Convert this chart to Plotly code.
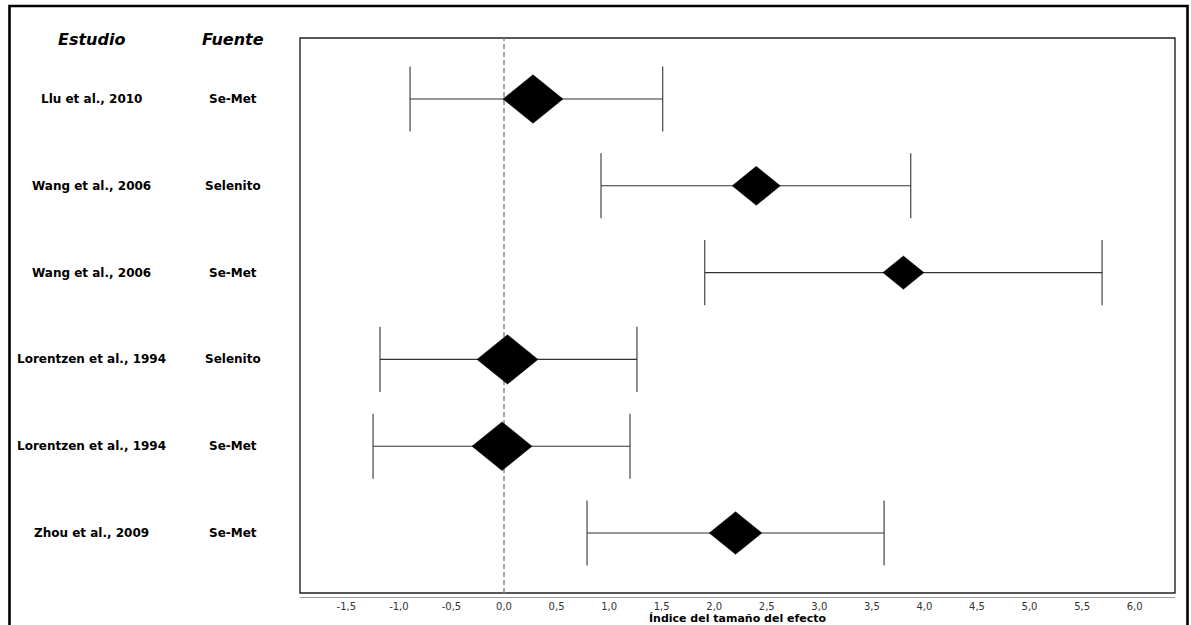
import plotly.graph_objects as go

# ---------------- data ----------------
estudios = ["Llu et al., 2010", "Wang et al., 2006", "Wang et al., 2006",
            "Lorentzen et al., 1994", "Lorentzen et al., 1994", "Zhou et al., 2009"]
fuentes = ["Se-Met", "Selenito", "Se-Met", "Selenito", "Se-Met", "Se-Met"]
efecto = [0.276, 2.40, 3.80, 0.033, -0.019, 2.203]
ic_inf = [-0.894, 0.923, 1.91, -1.18, -1.246, 0.79]
ic_sup = [1.51, 3.87, 5.69, 1.265, 1.199, 3.616]
pesos = [18.6, 14.9, 12.7, 18.9, 18.6, 16.3]

tick_vals = [-1.5, -1.0, -0.5, 0.0, 0.5, 1.0, 1.5, 2.0, 2.5, 3.0, 3.5, 4.0, 4.5, 5.0, 5.5, 6.0]
tick_text = ["-1,5", "-1,0", "-0,5", "0,0", "0,5", "1,0", "1,5", "2,0", "2,5", "3,0",
             "3,5", "4,0", "4,5", "5,0", "5,5", "6,0"]

encabezados = ["Estudio", "Fuente"]
titulo_x = "Índice del tamaño del efecto"

# ---------------- layout geometry ----------------
W, H = 1191, 625
ML, MR, MT, MB = 300, 16, 38, 28
PW, PH = W - ML - MR, H - MT - MB
X_RANGE = [-1.941, 6.384]
Y_RANGE = [5.737, -0.703]
px_x = PW / (X_RANGE[1] - X_RANGE[0])
px_y = PH / (Y_RANGE[0] - Y_RANGE[1])
frame_bottom = 4 / PH  # frame sits 4px above the axis line

DIAMOND_K = 1.613      # px of half-width per weight unit
DIAMOND_RATIO = 0.81   # half-height / half-width
CAP = 0.375            # cap half-height in row units

filas = list(range(len(estudios)))

# whiskers
wx, wy = [], []
for i, lo, hi in zip(filas, ic_inf, ic_sup):
    wx += [lo, hi, None, lo, lo, None, hi, hi, None]
    wy += [i, i, None, i - CAP, i + CAP, None, i - CAP, i + CAP, None]

# diamonds
dx, dy = [], []
for i, e, p in zip(filas, efecto, pesos):
    hw_px = p * DIAMOND_K
    hw = hw_px / px_x
    hh = hw_px * DIAMOND_RATIO / px_y
    dx += [e - hw, e, e + hw, e, e - hw, None]
    dy += [i, i - hh, i, i + hh, i, None]

fig = go.Figure()
fig.add_trace(go.Scatter(x=wx, y=wy, mode="lines",
                         line=dict(color="#333333", width=1.1),
                         hoverinfo="skip", showlegend=False))
fig.add_trace(go.Scatter(x=dx, y=dy, mode="lines", fill="toself",
                         fillcolor="black", line=dict(color="black", width=0.5),
                         hoverinfo="skip", showlegend=False))

annotations = []
col_x = [(91 - ML) / PW, (233 - ML) / PW]
header_y = Y_RANGE[1] + (39 - MT) / px_y
for cx, txt in zip(col_x, encabezados):
    annotations.append(dict(x=cx, y=header_y,
                            xref="paper", yref="y", text=txt, showarrow=False,
                            xanchor="center", yanchor="middle",
                            font=dict(family="DejaVu Sans", size=16, color="black",
                                      weight="bold", style="italic")))
for i, est, fu in zip(filas, estudios, fuentes):
    annotations.append(dict(x=col_x[0], y=i, xref="paper", yref="y", text=est,
                            showarrow=False, xanchor="center", yanchor="middle",
                            font=dict(family="DejaVu Sans", size=12, color="black",
                                      weight="bold")))
    annotations.append(dict(x=col_x[1], y=i, xref="paper", yref="y", text=fu,
                            showarrow=False, xanchor="center", yanchor="middle",
                            font=dict(family="DejaVu Sans", size=12, color="black",
                                      weight="bold")))

shapes = [
    # plot frame
    dict(type="rect", xref="paper", yref="paper", x0=0, x1=1, y0=frame_bottom, y1=1,
         line=dict(color="#222222", width=1.4), layer="below"),
    # zero reference line
    dict(type="line", xref="x", yref="paper", x0=0, x1=0, y0=frame_bottom, y1=1,
         line=dict(color="#8a8a8a", width=1.5, dash="5px,3px"), layer="below"),
    # outer border
    dict(type="rect", xref="paper", yref="paper",
         x0=(9.5 - ML) / PW, x1=(1187.5 - ML) / PW,
         y0=(PH + MT - 660) / PH, y1=(PH + MT - 6) / PH,
         line=dict(color="black", width=2.6), layer="below"),
]

fig.update_layout(
    width=W, height=H,
    margin=dict(l=ML, r=MR, t=MT, b=MB),
    paper_bgcolor="white", plot_bgcolor="white",
    annotations=annotations, shapes=shapes,
    xaxis=dict(range=X_RANGE, tickvals=tick_vals, ticktext=tick_text,
               showgrid=False, zeroline=False, showline=True, linecolor="#999999",
               linewidth=1, ticks="", tickfont=dict(family="DejaVu Sans", size=10, color="#333333"),
               title=dict(text=titulo_x, standoff=0,
                          font=dict(family="DejaVu Sans", size=11, color="black", weight="bold")),
               fixedrange=True, automargin=False),
    yaxis=dict(range=Y_RANGE, showgrid=False, zeroline=False, showticklabels=False,
               showline=False, ticks="", fixedrange=True, automargin=False),
    showlegend=False,
)

fig.write_html("out.html",
               config={"displayModeBar": False},
               post_script="document.body.style.margin='0';document.body.style.overflow='hidden';")
